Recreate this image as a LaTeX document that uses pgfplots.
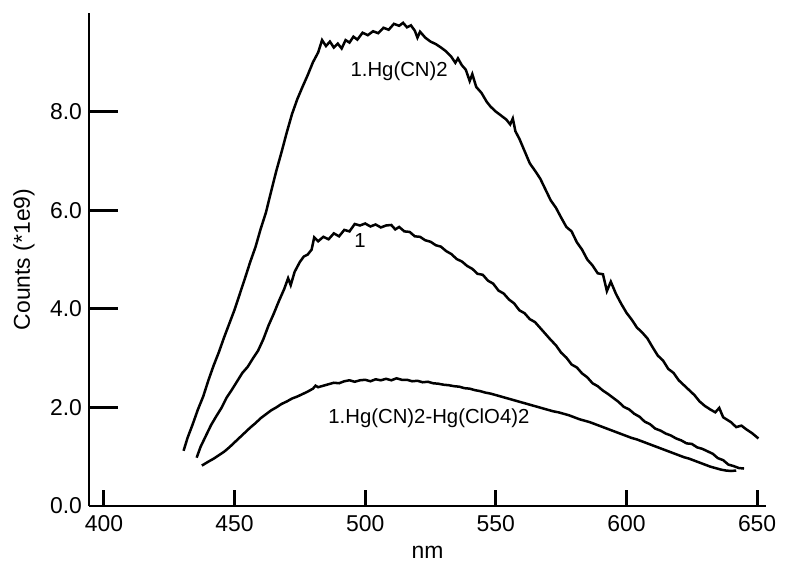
\documentclass[border=0pt]{standalone}
\usepackage{pgfplots}
\pgfplotsset{compat=1.18}
\usepackage{fontspec}
\setmainfont{Liberation Sans}

% spectra (nm, counts/1e9)
\pgfplotstableread{
x y
430.5 1.12
432 1.38
434 1.66
436 1.96
438 2.22
440 2.55
442 2.85
444 3.12
446 3.42
448 3.70
450 3.98
452 4.30
454 4.62
456 4.95
458 5.25
460 5.62
462 5.95
464 6.38
466 6.80
468 7.18
470 7.58
472 7.95
474 8.25
476 8.50
478 8.74
480 9.00
482 9.20
483.5 9.45
485 9.33
486.5 9.42
488 9.30
489.5 9.38
491 9.28
492.5 9.45
494 9.40
495.5 9.52
497 9.46
499 9.60
501 9.55
503 9.63
505 9.59
507 9.70
509 9.66
511 9.78
513 9.74
514.5 9.80
516 9.71
517.5 9.75
519 9.64
520 9.50
521 9.62
523 9.50
525 9.42
527 9.37
529 9.30
531 9.22
533 9.11
534.5 8.99
535.5 9.08
537 8.94
538.5 8.85
540 8.62
541 8.76
542.5 8.50
544.5 8.38
546.5 8.20
548 8.10
550 8.00
552 7.92
554 7.84
555.5 7.74
556.5 7.86
557.5 7.60
559 7.45
561 7.20
563 6.95
565 6.80
567 6.64
569 6.42
571 6.20
573 6.05
575 5.85
577 5.66
579 5.57
581 5.35
583 5.20
585 5.00
587 4.88
589 4.72
591 4.70
592.5 4.36
594 4.55
596 4.30
598 4.10
600 3.92
602 3.78
604 3.62
606 3.52
608 3.40
610 3.22
612 3.05
614 2.95
616 2.78
618 2.70
620 2.55
622 2.45
624 2.35
626 2.25
628 2.12
630 2.03
632 1.96
634 1.90
635.5 1.99
637 1.80
638.5 1.75
640 1.70
642 1.60
644 1.63
646 1.55
648 1.48
650.5 1.37
}\tabA

\pgfplotstableread{
x y
435.5 0.98
437 1.20
439 1.42
441 1.64
443 1.82
445 1.99
447 2.20
449 2.36
451 2.53
453 2.70
455 2.82
457 2.99
459 3.15
461 3.38
463 3.66
465 3.90
467 4.16
469 4.40
470.5 4.62
471.5 4.48
473 4.75
475 4.95
476.5 5.06
478 5.10
479.5 5.20
480.5 5.45
482 5.37
484 5.46
486 5.41
488 5.53
490 5.47
492 5.60
494 5.57
496 5.72
498 5.69
500 5.73
502 5.67
504 5.71
506 5.65
508 5.69
510 5.70
511.5 5.61
513 5.66
515 5.57
517 5.56
519 5.47
521 5.46
523 5.39
525 5.36
527 5.29
529 5.26
531 5.17
533 5.11
535 5.01
537 4.96
539 4.87
541 4.81
543 4.71
545 4.69
547 4.57
549 4.51
551 4.37
553 4.31
555 4.19
557 4.11
559 3.97
561 3.91
563 3.79
565 3.73
567 3.61
569 3.49
571 3.37
573 3.26
575 3.11
577 3.01
579 2.87
581 2.81
583 2.69
585 2.61
587 2.49
589 2.43
591 2.34
593 2.27
595 2.19
597 2.11
599 2.01
601 1.96
603 1.87
605 1.81
607 1.71
609 1.66
611 1.57
613 1.53
615 1.47
617 1.43
619 1.37
621 1.33
623 1.27
625 1.26
627 1.19
629 1.16
631 1.11
633 1.06
635 0.97
637 0.93
639 0.84
641 0.81
643 0.77
645 0.76
}\tabB

\pgfplotstableread{
x y
437.5 0.82
440 0.90
442 0.96
444 1.03
446 1.10
448 1.19
450 1.29
452 1.39
454 1.49
456 1.59
458 1.68
460 1.78
462 1.86
464 1.94
466 2.00
468 2.07
470 2.12
472 2.18
474 2.22
476 2.27
478 2.32
480 2.38
481 2.44
482 2.41
484 2.44
486 2.47
488 2.50
490 2.49
492 2.53
494 2.55
496 2.52
498 2.55
500 2.56
502 2.53
504 2.57
506 2.55
508 2.58
510 2.55
512 2.59
514 2.56
516 2.56
518 2.53
520 2.54
522 2.51
524 2.52
526 2.49
528 2.48
530 2.46
532 2.45
534 2.43
536 2.42
538 2.39
540 2.38
542 2.35
544 2.33
546 2.30
548 2.28
550 2.25
552 2.22
554 2.19
556 2.16
558 2.13
560 2.10
562 2.07
564 2.04
566 2.01
568 1.98
570 1.95
572 1.92
574 1.90
576 1.87
578 1.84
580 1.80
582 1.76
584 1.73
586 1.70
588 1.66
590 1.62
592 1.58
594 1.54
596 1.50
598 1.46
600 1.42
602 1.38
604 1.35
606 1.31
608 1.27
610 1.23
612 1.19
614 1.15
616 1.11
618 1.07
620 1.03
622 0.99
624 0.96
626 0.92
628 0.88
630 0.84
632 0.80
634 0.77
636 0.74
638 0.72
640 0.71
642 0.72
}\tabC

\begin{document}
\begin{tikzpicture}
\begin{axis}[
    name=ax,
    width=338.5bp, height=246.5bp,
    scale only axis,
    clip=false,
    xmin=394.3, xmax=653.4,
    ymin=0, ymax=10,
    axis x line=bottom, axis y line=left,
    axis line style={-, line width=1.4bp},
    tick align=inside,
    xtick={400,450,...,650},
    minor xtick={400,450,...,650},
    ytick={0,2,4,6,8},
    major tick length=14.5bp,
    minor tick length=8bp,
    every major x tick/.append style={draw=none},
    every minor x tick/.append style={line width=1.4bp, black},
    every major y tick/.append style={line width=1.4bp, black},
    yticklabel style={/pgf/number format/.cd, fixed, fixed zerofill, precision=1},
    /pgf/number format/assume math mode=true,
    ticklabel style={font=\fontsize{11.5}{13}\selectfont},
    xticklabel style={yshift=-1bp},
    xlabel={nm},
    ylabel={Counts (*1e9)},
    every axis x label/.style={at={(axis description cs:0.5,0)}, anchor=center, yshift=-23bp, font=\fontsize{11.5}{13}\selectfont},
    every axis y label/.style={at={(axis description cs:-0.096,0.5)}, anchor=center, rotate=90, font=\fontsize{11.5}{13}\selectfont},
]
\addplot[black, line width=1.25bp] table {\tabA};
\addplot[black, line width=1.25bp] table {\tabB};
\addplot[black, line width=1.25bp] table {\tabC};
\node[font=\fontsize{10.2}{12}\selectfont] at (axis cs:513,8.82) {1.Hg(CN)2};
\node[font=\fontsize{10.2}{12}\selectfont] at (axis cs:498,5.38) {1};
\node[font=\fontsize{10.2}{12}\selectfont] at (axis cs:524.4,1.78) {1.Hg(CN)2-Hg(ClO4)2};
\end{axis}
\pgfresetboundingbox
\path (ax.south west) ++(-44.5bp,-28.5bp) rectangle ++(392.5bp,281.5bp);
\end{tikzpicture}
\end{document}
